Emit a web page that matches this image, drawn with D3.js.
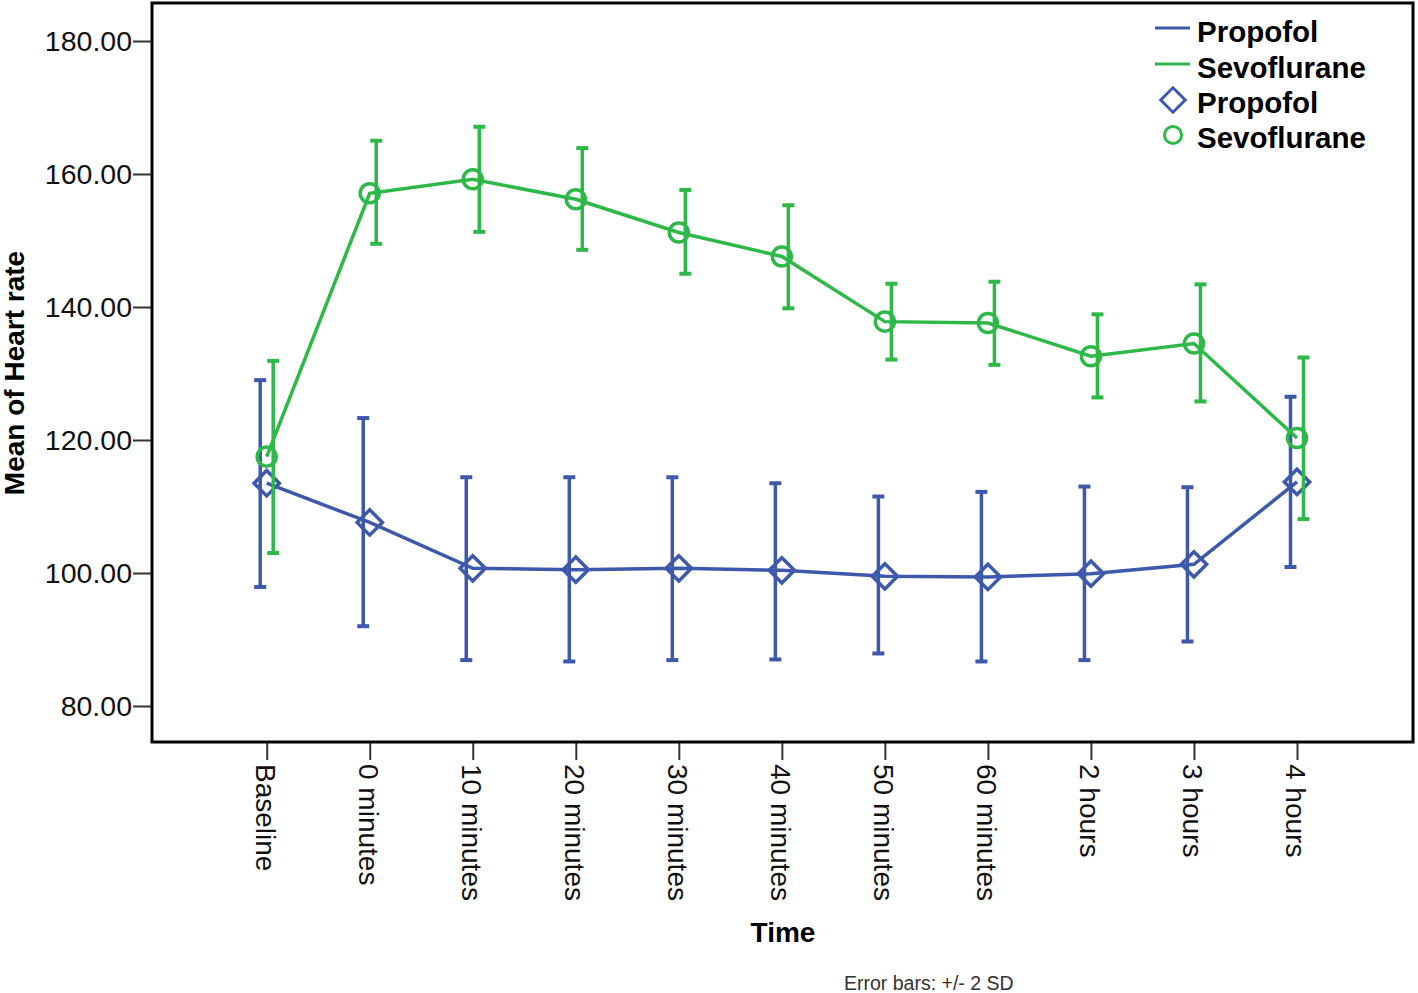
<!DOCTYPE html>
<html>
<head>
<meta charset="utf-8">
<script src="https://cdn.jsdelivr.net/npm/d3@7"></script>
<style>
  body { margin: 0; background: #fff; }
  svg { display: block; font-family: Arial, "Liberation Sans", sans-serif; }
</style>
</head>
<body>
<svg id="chart"></svg>
<script>
// ----- data -----
let timePoints = ["Baseline", "0 minutes", "10 minutes", "20 minutes", "30 minutes",
    "40 minutes", "50 minutes", "60 minutes", "2 hours", "3 hours", "4 hours"];

let propofolMean  = [113.5, 107.6, 100.7, 100.5, 100.7, 100.4, 99.5, 99.4, 99.9, 101.3, 113.7];
let propofolLower = [97.9, 92.0, 86.9, 86.7, 86.9, 87.0, 87.9, 86.7, 86.9, 89.7, 100.9];
let propofolUpper = [129.0, 123.3, 114.4, 114.4, 114.4, 113.5, 111.5, 112.2, 113.0, 112.9, 126.5];

let sevoMean  = [117.5, 157.1, 159.2, 156.2, 151.2, 147.6, 137.8, 137.6, 132.6, 134.5, 120.3];
let sevoLower = [103.0, 149.5, 151.3, 148.6, 145.0, 139.8, 132.1, 131.3, 126.4, 125.8, 108.1];
let sevoUpper = [131.9, 165.0, 167.1, 163.9, 157.6, 155.3, 143.5, 143.8, 138.9, 143.4, 132.4];

let yTicks = [80, 100, 120, 140, 160, 180];

let blue = "#3E58AC";
let green = "#2EB848";

// ----- layout -----
let svgWidth = 1418;
let svgHeight = 993;
let frame = { left: 152, right: 1413, top: 3, bottom: 742 };

let svg = d3.select("#chart")
    .attr("width", svgWidth)
    .attr("height", svgHeight);

let x = d3.scalePoint()
    .domain(timePoints)
    .range([266.7, 1297]);

let y = d3.scaleLinear()
    .domain([80, 180])
    .range([706, 41]);

// axes
let axisY = d3.axisLeft(y)
    .tickValues(yTicks)
    .tickSize(19)
    .tickPadding(1)
    .tickFormat(d3.format(".2f"));

let groupY = svg.append("g")
    .attr("transform", `translate(${frame.left}, 0)`)
    .call(axisY);
groupY.select(".domain").remove();
groupY.selectAll("line").attr("stroke", "#333").attr("stroke-width", 2);
groupY.selectAll("text")
    .attr("fill", "#111")
    .style("font-size", "28.5px");

let axisX = d3.axisBottom(x).tickSize(18).tickPadding(0);
let groupX = svg.append("g")
    .attr("transform", `translate(0, ${frame.bottom})`)
    .call(axisX);
groupX.select(".domain").remove();
groupX.selectAll("line").attr("stroke", "#333").attr("stroke-width", 2);
groupX.selectAll("text")
    .attr("fill", "#111")
    .style("font-size", "28px")
    .attr("text-anchor", "start")
    .attr("dy", null)
    .attr("dominant-baseline", "central")
    .attr("transform", "translate(-2, 22) rotate(90)")
    .attr("y", 0)
    .attr("x", 0);

// frame
svg.append("rect")
    .attr("x", frame.left)
    .attr("y", frame.top)
    .attr("width", frame.right - frame.left)
    .attr("height", frame.bottom - frame.top)
    .attr("fill", "none")
    .attr("stroke", "#000")
    .attr("stroke-width", 3);

// ----- series -----
let series = [
    { name: "Propofol", mean: propofolMean, lower: propofolLower, upper: propofolUpper, color: blue, offset: -6.5, shape: "diamond" },
    { name: "Sevoflurane", mean: sevoMean, lower: sevoLower, upper: sevoUpper, color: green, offset: 6.5, shape: "circle" }
];

let diamondPath = d3.symbol().type(d3.symbolSquare).size(320)();
let circlePath = d3.symbol().type(d3.symbolCircle).size(285)();

series.forEach(s => {
    let g = svg.append("g");
    let rows = timePoints.map((t, i) => ({ t: t, m: s.mean[i], lo: s.lower[i], hi: s.upper[i] }));

    // error bars
    let bars = g.selectAll(".bar")
        .data(rows)
        .enter()
        .append("g")
        .attr("stroke", s.color)
        .attr("stroke-width", 3.5);
    bars.append("line")
        .attr("x1", d => x(d.t) + s.offset)
        .attr("x2", d => x(d.t) + s.offset)
        .attr("y1", d => y(d.hi))
        .attr("y2", d => y(d.lo));
    bars.append("line")
        .attr("x1", d => x(d.t) + s.offset - 6)
        .attr("x2", d => x(d.t) + s.offset + 6)
        .attr("y1", d => y(d.hi))
        .attr("y2", d => y(d.hi))
        .attr("stroke-width", 4);
    bars.append("line")
        .attr("x1", d => x(d.t) + s.offset - 6)
        .attr("x2", d => x(d.t) + s.offset + 6)
        .attr("y1", d => y(d.lo))
        .attr("y2", d => y(d.lo))
        .attr("stroke-width", 4);

    s.g = g;
    s.rows = rows;
});

series.forEach(s => {
    let line = d3.line()
        .x(d => x(d.t))
        .y(d => y(d.m));
    s.g.append("path")
        .datum(s.rows)
        .attr("d", line)
        .attr("fill", "none")
        .attr("stroke", s.color)
        .attr("stroke-width", 3.5);

    s.g.selectAll(".marker")
        .data(s.rows)
        .enter()
        .append("path")
        .attr("d", s.shape == "diamond" ? diamondPath : circlePath)
        .attr("transform", d => `translate(${x(d.t)}, ${y(d.m)})` + (s.shape == "diamond" ? " rotate(45)" : ""))
        .attr("fill", "none")
        .attr("stroke", s.color)
        .attr("stroke-width", 3.5);
});

// ----- titles -----
svg.append("text")
    .attr("transform", "translate(24, 373) rotate(-90)")
    .attr("text-anchor", "middle")
    .style("font-size", "28px")
    .style("font-weight", "bold")
    .text("Mean of Heart rate");

svg.append("text")
    .attr("x", 783)
    .attr("y", 942)
    .attr("text-anchor", "middle")
    .style("font-size", "28px")
    .style("font-weight", "bold")
    .text("Time");

svg.append("text")
    .attr("x", 844)
    .attr("y", 990)
    .attr("fill", "#333")
    .style("font-size", "19.5px")
    .text("Error bars: +/- 2 SD");

// ----- legend -----
let legend = svg.append("g");
let legendRows = [
    { label: "Propofol", color: blue, kind: "line", y: 31 },
    { label: "Sevoflurane", color: green, kind: "line", y: 67 },
    { label: "Propofol", color: blue, kind: "diamond", y: 102 },
    { label: "Sevoflurane", color: green, kind: "circle", y: 137 }
];
legendRows.forEach(r => {
    if (r.kind == "line") {
        legend.append("line")
            .attr("x1", 1155).attr("x2", 1190)
            .attr("y1", r.y - 3).attr("y2", r.y - 3)
            .attr("stroke", r.color)
            .attr("stroke-width", 3);
    } else {
        legend.append("path")
            .attr("d", r.kind == "diamond" ? d3.symbol().type(d3.symbolSquare).size(300)() : d3.symbol().type(d3.symbolCircle).size(230)())
            .attr("transform", `translate(1173, ${r.y - 2})` + (r.kind == "diamond" ? " rotate(45)" : ""))
            .attr("fill", "none")
            .attr("stroke", r.color)
            .attr("stroke-width", 3);
    }
    legend.append("text")
        .attr("x", 1197)
        .attr("y", r.y)
        .attr("dominant-baseline", "central")
        .style("font-size", "29.5px")
        .style("font-weight", "bold")
        .text(r.label);
});
</script>
</body>
</html>
